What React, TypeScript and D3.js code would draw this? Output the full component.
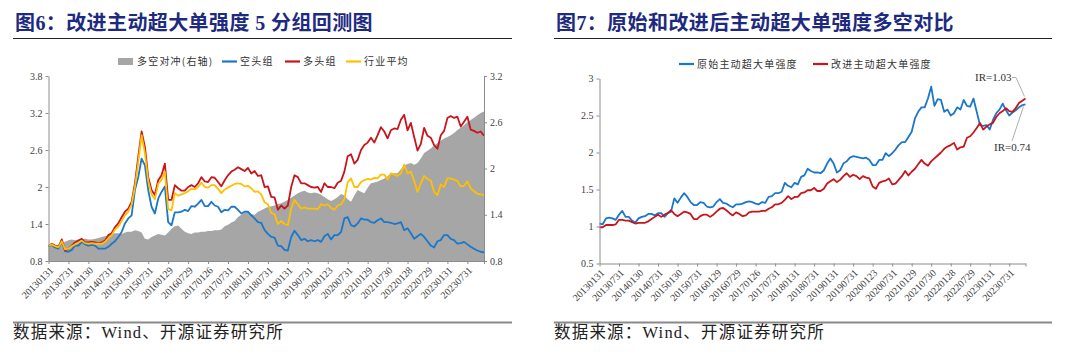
import * as React from "react";
import { useEffect, useRef } from "react";
import * as d3 from "d3";

// x labels, every 6 months (monthly data 2013-01 .. 2023-12)
const dateLabels = [
  "20130131", "20130731", "20140130", "20140731", "20150130", "20150731",
  "20160129", "20160729", "20170126", "20170731", "20180131", "20180731",
  "20190131", "20190731", "20200123", "20200731", "20210129", "20210730",
  "20220128", "20220729", "20230131", "20230731",
];

// 图6 series
const hedge = [
  1.0, 1.01, 1.0, 1.01, 1.03, 1.05, 1.07, 1.08, 1.07, 1.08,
  1.08, 1.09, 1.08, 1.08, 1.09, 1.1, 1.11, 1.12, 1.13, 1.15,
  1.16, 1.16, 1.15, 1.17, 1.18, 1.18, 1.2, 1.19, 1.17, 1.09,
  1.08, 1.11, 1.13, 1.15, 1.14, 1.13, 1.17, 1.22, 1.25, 1.26,
  1.22, 1.18, 1.16, 1.15, 1.17, 1.17, 1.18, 1.18, 1.19, 1.19,
  1.2, 1.2, 1.21, 1.25, 1.27, 1.3, 1.32, 1.37, 1.4, 1.43,
  1.44, 1.41, 1.4, 1.44, 1.46, 1.48, 1.5, 1.51, 1.52, 1.54,
  1.55, 1.57, 1.59, 1.62, 1.65, 1.68, 1.7, 1.71, 1.69, 1.68,
  1.69, 1.68, 1.66, 1.63, 1.6, 1.58, 1.6, 1.63, 1.67, 1.65,
  1.6, 1.57, 1.65, 1.72, 1.7, 1.68, 1.75, 1.81, 1.82, 1.83,
  1.85, 1.87, 1.9, 1.94, 1.94, 1.94, 1.99, 2.04, 2.06, 2.07,
  2.05, 2.07, 2.13, 2.2, 2.23, 2.26, 2.3, 2.33, 2.36, 2.39,
  2.41, 2.43, 2.46, 2.5, 2.53, 2.56, 2.6, 2.63, 2.66, 2.69,
  2.72, 2.74,
];

const shortGroup = [
  1.04, 1.06, 1.02, 1.0, 1.12, 0.96, 0.95, 0.98, 1.05, 1.05,
  1.11, 1.07, 1.05, 1.06, 1.05, 1.0, 1.0, 1.0, 1.03, 1.08,
  1.12, 1.19, 1.27, 1.41, 1.49, 1.54, 1.95, 2.16, 2.46, 2.35,
  1.95, 1.68, 1.57, 1.81, 1.92, 2.01, 1.43, 1.38, 1.59, 1.59,
  1.6, 1.63, 1.61, 1.69, 1.68, 1.73, 1.79, 1.69, 1.69, 1.76,
  1.7, 1.68, 1.59, 1.63, 1.62, 1.68, 1.68, 1.63, 1.57, 1.6,
  1.6, 1.54, 1.49, 1.43, 1.42, 1.3, 1.24, 1.19, 1.18, 1.05,
  1.04, 0.98, 0.97, 1.19, 1.29, 1.22, 1.14, 1.16, 1.12, 1.14,
  1.12, 1.14, 1.11, 1.2, 1.24, 1.15, 1.22, 1.22, 1.27, 1.49,
  1.51, 1.38, 1.36, 1.41, 1.49, 1.47, 1.47, 1.43, 1.42, 1.46,
  1.49, 1.43, 1.43, 1.42, 1.4, 1.41, 1.43, 1.3, 1.33, 1.25,
  1.16, 1.2, 1.24, 1.19, 1.12, 1.05, 1.02, 1.12, 1.14, 1.22,
  1.22, 1.16, 1.14, 1.08, 1.09, 1.11, 1.07, 1.03, 1.0, 0.97,
  0.95, 0.94,
];

const longGroup = [
  1.04, 1.08, 1.05, 1.03, 1.15, 0.97, 1.0, 1.05, 1.1, 1.13,
  1.16, 1.1, 1.1, 1.11, 1.1, 1.09, 1.1, 1.13, 1.22, 1.25,
  1.35, 1.41, 1.51, 1.6, 1.65, 1.76, 2.06, 2.49, 2.9, 2.65,
  2.16, 1.95, 1.87, 2.11, 2.19, 2.38, 1.79, 1.79, 2.03, 1.98,
  1.94, 1.94, 2.0, 2.03, 2.0, 2.06, 2.16, 2.09, 2.08, 2.16,
  2.15, 2.08, 2.01, 2.11, 2.19, 2.25, 2.28, 2.32, 2.29, 2.26,
  2.31, 2.22, 2.26, 2.18, 2.19, 2.0, 2.01, 1.84, 1.83, 1.63,
  1.7, 1.65, 1.7, 2.0, 2.19, 2.16, 2.06, 2.06, 2.03, 2.0,
  1.99, 2.0, 1.92, 2.06, 2.0, 2.0, 1.98, 2.07, 2.1, 2.25,
  2.5, 2.53, 2.38, 2.44, 2.6, 2.68, 2.72, 2.8, 2.72, 2.84,
  2.97, 2.9, 2.79, 2.92, 2.95, 2.94, 3.09, 3.17, 2.92, 3.04,
  2.81, 2.59, 2.7, 2.96, 2.83, 2.8, 2.68, 2.62, 2.84, 2.91,
  3.12, 3.15, 3.12, 3.14, 2.98, 3.06, 3.14, 2.93, 2.91, 2.88,
  2.9, 2.83,
];

const industryAvg = [
  1.04, 1.07, 1.04, 1.02, 1.12, 0.99, 1.0, 1.04, 1.07, 1.1,
  1.13, 1.09, 1.08, 1.09, 1.08, 1.08, 1.08, 1.11, 1.17, 1.22,
  1.31, 1.36, 1.45, 1.54, 1.6, 1.72, 2.0, 2.4, 2.84, 2.55,
  2.1, 1.88, 1.8, 2.05, 2.12, 2.25, 1.64, 1.62, 1.9, 1.86,
  1.88, 1.9, 1.93, 1.97, 1.96, 2.0, 2.07, 2.0, 1.99, 2.03,
  2.03, 1.97, 1.9, 1.96, 1.99, 2.02, 2.05, 2.06, 2.05, 2.01,
  2.02, 1.98, 1.92, 1.93, 1.88, 1.75, 1.72, 1.58, 1.56, 1.4,
  1.45, 1.4, 1.38, 1.65, 1.79, 1.72, 1.65, 1.67, 1.65, 1.65,
  1.65, 1.64, 1.72, 1.7, 1.72, 1.66, 1.63, 1.7, 1.72, 1.8,
  2.08, 2.14, 2.0, 2.0, 2.08, 2.11, 2.13, 2.12, 2.15, 2.14,
  2.2, 2.2, 2.12, 2.22, 2.2, 2.18, 2.22, 2.36, 2.22, 2.25,
  2.1, 1.92, 2.06, 2.18, 2.13, 2.1, 1.92, 1.87, 2.04, 2.0,
  2.14, 2.14, 2.12, 2.1, 2.01, 2.02, 2.09, 1.98, 1.93, 1.89,
  1.88, 1.87,
];

// 图7 series
const originalStrength = [
  1.04, 1.03, 1.11, 1.12, 1.11, 1.09, 1.16, 1.21, 1.13, 1.13,
  1.08, 1.05, 1.11, 1.13, 1.14, 1.17, 1.17, 1.15, 1.18, 1.18,
  1.13, 1.18, 1.2, 1.38, 1.32, 1.39, 1.45, 1.4, 1.33, 1.29,
  1.29, 1.33, 1.32, 1.27, 1.26, 1.27, 1.33, 1.37, 1.32, 1.31,
  1.28, 1.26, 1.3, 1.3, 1.31, 1.33, 1.34, 1.33, 1.31, 1.3,
  1.33, 1.32, 1.4, 1.41, 1.45, 1.45, 1.47, 1.59, 1.55, 1.53,
  1.59, 1.57, 1.67, 1.69, 1.78, 1.75, 1.73, 1.73, 1.72, 1.76,
  1.85, 1.92, 1.85, 1.73, 1.76, 1.85, 1.88, 1.93, 1.95, 1.94,
  1.93, 1.92, 1.93, 1.9, 1.83, 1.83, 1.9, 1.9, 1.99, 1.95,
  1.99, 2.04, 2.1, 2.14, 2.14, 2.21, 2.28, 2.46, 2.55, 2.61,
  2.61, 2.73, 2.89, 2.63, 2.72, 2.71, 2.55, 2.58, 2.5, 2.53,
  2.61, 2.58, 2.71, 2.63, 2.62, 2.73, 2.55, 2.37, 2.36, 2.37,
  2.31, 2.44, 2.53, 2.58, 2.66, 2.57, 2.5, 2.54, 2.57, 2.61,
  2.64, 2.65,
];

const improvedStrength = [
  0.99, 0.99, 1.02, 1.02, 1.02, 1.03, 1.09, 1.09, 1.08, 1.08,
  1.06, 1.04, 1.05, 1.05, 1.05, 1.07, 1.1, 1.13, 1.16, 1.13,
  1.16, 1.18, 1.22, 1.17, 1.14, 1.17, 1.2, 1.19, 1.17, 1.1,
  1.1, 1.14, 1.16, 1.16, 1.13, 1.16, 1.2, 1.24, 1.25, 1.22,
  1.18, 1.15, 1.19, 1.17, 1.14, 1.15, 1.19, 1.2, 1.2, 1.2,
  1.21, 1.21, 1.24, 1.26, 1.3, 1.3, 1.32, 1.36, 1.41, 1.37,
  1.4, 1.4, 1.45, 1.46, 1.49, 1.49, 1.52, 1.48, 1.48, 1.51,
  1.58, 1.61, 1.64, 1.6, 1.63, 1.68, 1.72, 1.67, 1.7, 1.68,
  1.64, 1.68, 1.66, 1.65, 1.54, 1.51, 1.59, 1.61, 1.62, 1.65,
  1.57, 1.58, 1.63, 1.68, 1.75, 1.69, 1.74, 1.78, 1.84, 1.9,
  1.85, 1.82, 1.88, 1.92, 1.96, 2.0, 2.05, 2.08, 2.1, 2.13,
  2.04, 2.07, 2.08, 2.2, 2.22, 2.27, 2.33, 2.4, 2.31, 2.35,
  2.38, 2.4, 2.48, 2.53, 2.56, 2.6, 2.56, 2.55, 2.6, 2.67,
  2.7, 2.73,
];

const fig6LeftTicks = [0.8, 1.4, 2, 2.6, 3.2, 3.8];
const fig6RightTicks = [0.8, 1.4, 2, 2.6, 3.2];
const fig7Ticks = [0.5, 1, 1.5, 2, 2.5, 3];

const BLUE = "#1a77c9";
const RED = "#c8141c";
const YELLOW = "#ffc000";
const GREY = "#a6a6a6";
const AXIS = "#8c8c8c";
const TITLE = "#1d2a80";
const SERIF = "'Liberation Serif', 'Times New Roman', serif";
const CJK = "'Liberation Serif', 'Noto Sans CJK SC', sans-serif";

function frame(svg, x0, x1, title) {
  svg.append("text")
    .attr("x", x0 + 2).attr("y", 30)
    .attr("font-family", CJK).attr("font-size", 20).attr("font-weight", 600)
    .attr("letter-spacing", 0.4)
    .attr("fill", TITLE).text(title);
  svg.append("line")
    .attr("x1", x0).attr("x2", x1).attr("y1", 38.5).attr("y2", 38.5)
    .attr("stroke", "#222").attr("stroke-width", 1);
  svg.append("line")
    .attr("x1", x0).attr("x2", x1).attr("y1", 322.5).attr("y2", 322.5)
    .attr("stroke", "#8a8a8a").attr("stroke-width", 2);
  svg.append("text")
    .attr("x", x0).attr("y", 338)
    .attr("font-family", CJK).attr("font-size", 16.5)
    .attr("letter-spacing", 1.2)
    .attr("fill", "#222").text("数据来源：Wind、开源证券研究所");
}

function xAxis(g, x, y0) {
  const ticks = d3.range(0, 127, 6).concat([131]);
  const ax = g.append("g")
    .attr("transform", `translate(0,${y0})`)
    .call(
      d3.axisBottom(x)
        .tickValues(ticks)
        .tickSize(3)
        .tickSizeOuter(0)
        .tickFormat((d) => (d % 6 === 0 && d / 6 < dateLabels.length ? dateLabels[d / 6] : ""))
    );
  ax.select(".domain").attr("stroke", AXIS);
  ax.selectAll(".tick line").attr("stroke", AXIS);
  ax.selectAll("text")
    .attr("x", 0).attr("y", 0).attr("dy", 0)
    .attr("transform", "translate(5,10) rotate(-45)")
    .style("text-anchor", "end")
    .attr("font-family", SERIF).attr("font-size", 10).attr("fill", "#404040");
}

function yAxis(g, axis, xPos) {
  const ax = g.append("g").attr("transform", `translate(${xPos},0)`).call(axis);
  ax.select(".domain").attr("stroke", AXIS);
  ax.selectAll(".tick line").attr("stroke", AXIS);
  ax.selectAll("text").attr("font-family", SERIF).attr("font-size", 10).attr("fill", "#404040");
}

function legendLine(g, x, y, color, label) {
  g.append("line").attr("x1", x).attr("x2", x + 15).attr("y1", y).attr("y2", y)
    .attr("stroke", color).attr("stroke-width", 2.2);
  g.append("text").attr("x", x + 18).attr("y", y + 3.5)
    .attr("font-family", "'Noto Sans CJK SC', sans-serif").attr("font-size", 10)
    .attr("letter-spacing", 1.2).attr("fill", "#333").text(label);
}

function drawFig6(svg) {
  frame(svg, 13, 512, "图6：改进主动超大单强度 5 分组回测图");
  const g = svg.append("g");
  const x = d3.scaleLinear().domain([0, 131]).range([48.5, 484]);
  const yL = d3.scaleLinear().domain([0.8, 3.8]).range([261, 76]);
  const yR = d3.scaleLinear().domain([0.8, 3.2]).range([261, 76]);

  const area = d3.area<number>().x((d, i) => x(i)).y0(yR(0.8)).y1((d) => yR(d));
  g.append("path").datum(hedge).attr("d", area).attr("fill", GREY);

  const line = d3.line<number>().x((d, i) => x(i)).y((d) => yL(d));
  [[shortGroup, BLUE], [longGroup, RED], [industryAvg, YELLOW]].forEach(([data, color]) => {
    g.append("path").datum(data).attr("d", line)
      .attr("fill", "none").attr("stroke", color).attr("stroke-width", 1.8)
      .attr("stroke-linejoin", "round");
  });

  yAxis(g, d3.axisLeft(yL).tickValues(fig6LeftTicks).tickSize(3).tickSizeOuter(0).tickFormat((d) => String(d)), x(0));
  yAxis(g, d3.axisRight(yR).tickValues(fig6RightTicks).tickSize(3).tickSizeOuter(0).tickFormat((d) => String(d)), x(131));
  xAxis(g, x, yL(0.8));

  // legend
  const ly = 61.5;
  g.append("rect").attr("x", 118).attr("y", ly - 3.5).attr("width", 15).attr("height", 7).attr("fill", GREY);
  g.append("text").attr("x", 137).attr("y", ly + 3.5)
    .attr("font-family", "'Noto Sans CJK SC', sans-serif").attr("font-size", 10)
    .attr("letter-spacing", 1.2).attr("fill", "#333").text("多空对冲(右轴)");
  legendLine(g, 222, ly, BLUE, "空头组");
  legendLine(g, 285, ly, RED, "多头组");
  legendLine(g, 346, ly, YELLOW, "行业平均");
}

function drawFig7(svg) {
  frame(svg, 554, 1052, "图7：原始和改进后主动超大单强度多空对比");
  const g = svg.append("g");
  const x = d3.scaleLinear().domain([0, 131]).range([599.5, 1025.5]);
  const y = d3.scaleLinear().domain([0.5, 3]).range([263.5, 78.5]);

  const line = d3.line<number>().x((d, i) => x(i)).y((d) => y(d));
  [[originalStrength, BLUE], [improvedStrength, RED]].forEach(([data, color]) => {
    g.append("path").datum(data).attr("d", line)
      .attr("fill", "none").attr("stroke", color).attr("stroke-width", 1.8)
      .attr("stroke-linejoin", "round");
  });

  yAxis(g, d3.axisLeft(y).tickValues(fig7Ticks).tickSize(3).tickSizeOuter(0).tickFormat((d) => String(d)), x(0));
  xAxis(g, x, y(0.5));

  legendLine(g, 679, 64, BLUE, "原始主动超大单强度");
  legendLine(g, 813, 64, RED, "改进主动超大单强度");

  // IR labels
  const last = improvedStrength.length - 1;
  g.append("text").attr("x", 975).attr("y", 81).attr("font-family", SERIF).attr("font-size", 11)
    .attr("fill", "#333").text("IR=1.03");
  g.append("polyline")
    .attr("points", `1012,77.5 1016,77.5 ${x(last) - 1},${y(improvedStrength[last]) - 2}`)
    .attr("fill", "none").attr("stroke", "#999").attr("stroke-width", 0.8);
  g.append("text").attr("x", 994).attr("y", 151).attr("font-family", SERIF).attr("font-size", 11)
    .attr("fill", "#333").text("IR=0.74");
  g.append("line")
    .attr("x1", 1012).attr("y1", 141)
    .attr("x2", x(last) - 2).attr("y2", y(originalStrength[last]) + 2)
    .attr("stroke", "#999").attr("stroke-width", 0.8);
}

const App = () => {
  const ref = useRef<SVGSVGElement>(null);

  useEffect(() => {
    const svg = d3.select(ref.current);
    svg.selectAll("*").remove();
    drawFig6(svg);
    drawFig7(svg);
  }, []);

  return (
    <svg
      ref={ref}
      width={1080}
      height={360}
      style={{ position: "absolute", left: 0, top: 0, background: "#fff" }}
    />
  );
};

export default App;
